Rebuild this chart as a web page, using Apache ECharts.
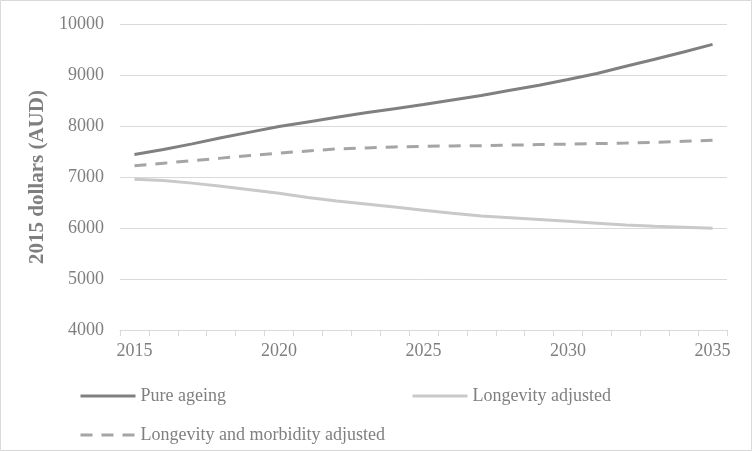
<!DOCTYPE html>
<html><head><meta charset="utf-8">
<script src="https://cdn.jsdelivr.net/npm/echarts@6/dist/echarts.min.js"></script>
<style>html,body{margin:0;padding:0;background:#fff}#c{width:752px;height:451px}</style>
</head><body><div id="c"></div>
<script>
const years = ['2015','2016','2017','2018','2019','2020','2021','2022','2023','2024','2025','2026','2027','2028','2029','2030','2031','2032','2033','2034','2035'];
const pureAgeing = [7440,7540,7650,7770,7880,7990,8080,8170,8260,8340,8420,8510,8600,8700,8800,8910,9030,9170,9310,9450,9600];
const longevityAdjusted = [6955,6930,6880,6820,6750,6680,6600,6530,6470,6410,6350,6290,6235,6200,6165,6130,6095,6060,6035,6015,5995];
const longevityMorbidity = [7220,7270,7320,7370,7420,7470,7510,7550,7570,7590,7600,7610,7615,7625,7635,7645,7655,7665,7680,7700,7720];
const yTicks = {min:4000, max:10000, interval:1000};

const font = '"Liberation Serif", "Times New Roman", serif';
const gray = '#7f7f7f';
const chart = echarts.init(document.getElementById('c'), null, {renderer:'canvas'});
function legendItem(name, left, top) {
  return {show:true, orient:'horizontal', left:left, top:top, data:[name], itemWidth:55, itemHeight:14, itemGap:10,
    selectedMode:false, itemStyle:{opacity:0}, lineStyle:{width:3},
    textStyle:{color:gray, fontSize:18, fontFamily:font}};
}
chart.setOption({
  animation:false,
  graphic:[{type:'rect', shape:{x:0.5,y:0.5,width:751,height:450}, style:{fill:'none', stroke:'#d9d9d9', lineWidth:1}, silent:true}],
  grid:{left:120, right:25, top:24, bottom:121},
  legend:[
    legendItem('Pure ageing', 74, 382),
    legendItem('Longevity adjusted', 406, 382),
    legendItem('Longevity and morbidity adjusted', 74, 421)
  ],
  xAxis:{type:'category', data:years, boundaryGap:true,
    axisLine:{lineStyle:{color:'#d9d9d9', width:1}},
    axisTick:{show:true, interval:0, length:6, lineStyle:{color:'#d9d9d9'}},
    axisLabel:{interval:4, color:gray, fontSize:18, fontFamily:font, margin:12}},
  yAxis:{type:'value', min:yTicks.min, max:yTicks.max, interval:yTicks.interval,
    name:'2015 dollars (AUD)', nameLocation:'middle', nameGap:70, nameRotate:90,
    nameTextStyle:{color:gray, fontSize:21, fontWeight:'bold', fontFamily:font},
    axisLine:{show:false}, axisTick:{show:false},
    splitLine:{lineStyle:{color:'#d9d9d9', width:1}},
    axisLabel:{color:gray, fontSize:18, fontFamily:font, margin:16, formatter:function(v){return String(v);}}},
  series:[
    {name:'Pure ageing', type:'line', data:pureAgeing, symbol:'none', lineStyle:{color:'#808080', width:3}, itemStyle:{color:'#808080'}},
    {name:'Longevity adjusted', type:'line', data:longevityAdjusted, symbol:'none', lineStyle:{color:'#c9c9c9', width:3}, itemStyle:{color:'#c9c9c9'}},
    {name:'Longevity and morbidity adjusted', type:'line', data:longevityMorbidity, symbol:'none', lineStyle:{color:'#a5a5a5', width:3, type:[12,9]}, itemStyle:{color:'#a5a5a5'}}
  ]
});
</script></body></html>
